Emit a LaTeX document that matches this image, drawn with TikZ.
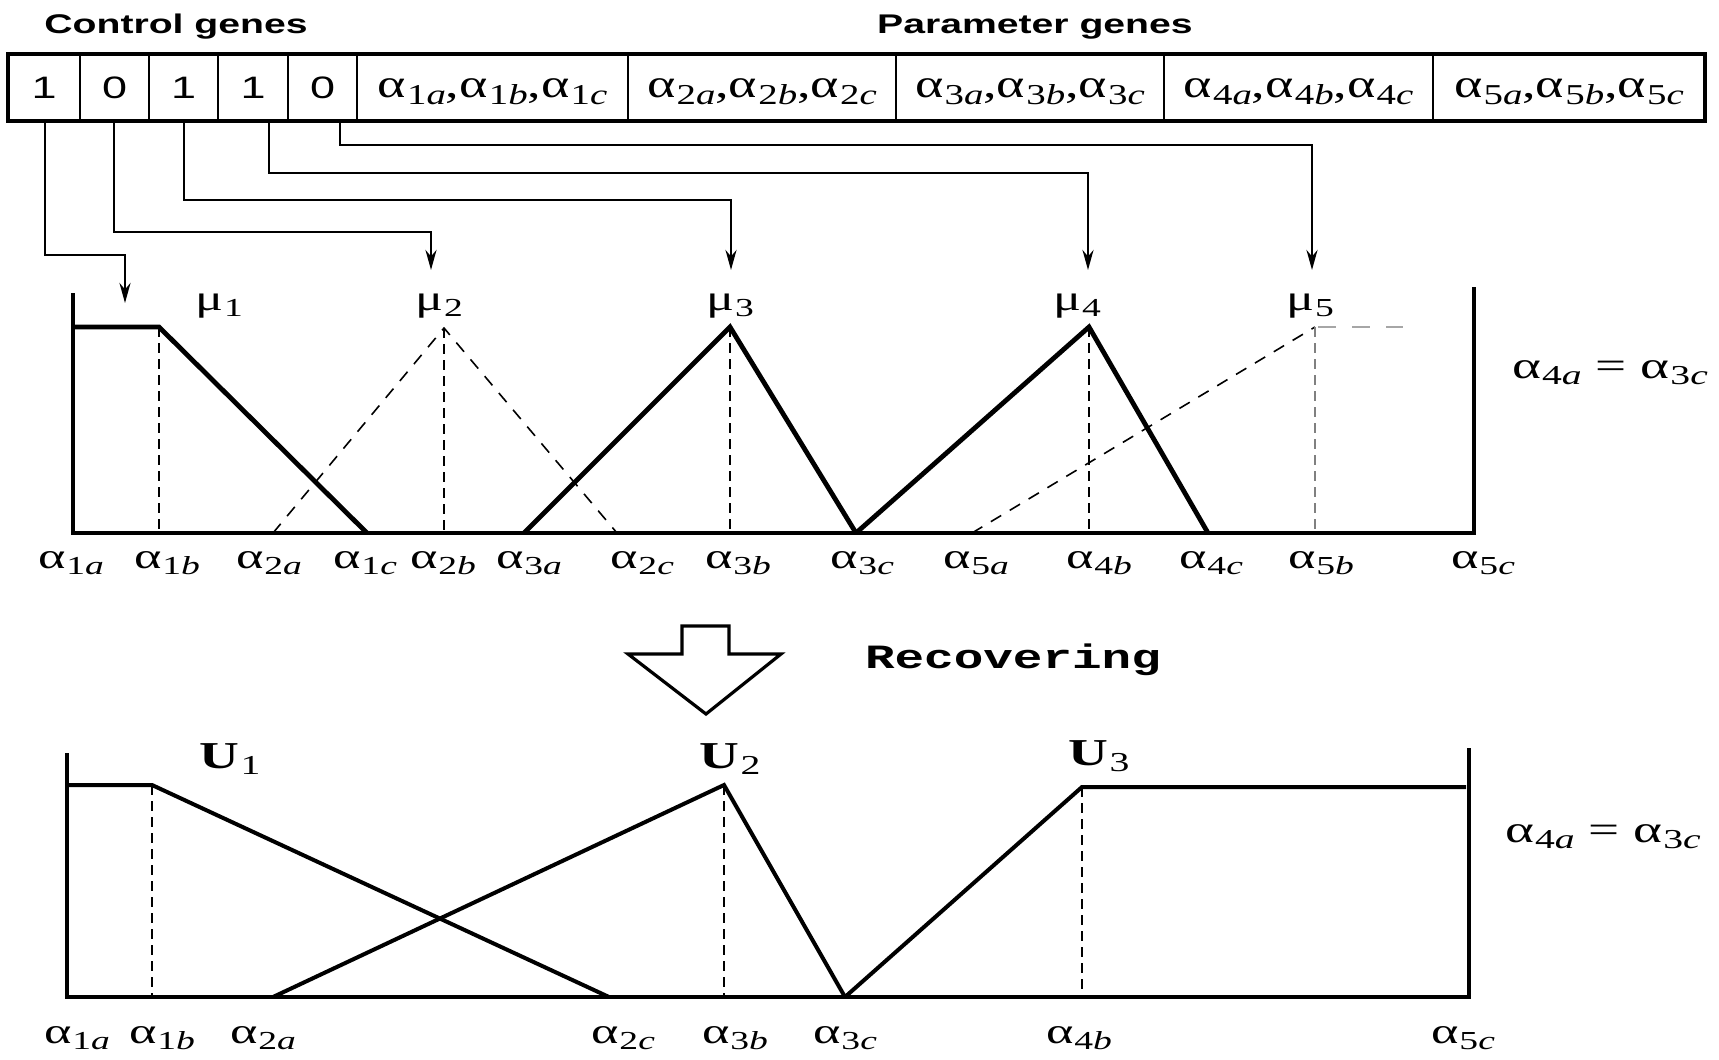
\documentclass[tikz,border=0pt]{standalone}
\usepackage{graphicx}
\usepackage{fontspec}
\setmainfont{Liberation Serif}
\newfontfamily\sansf{Liberation Sans}
\newfontfamily\monof{Liberation Mono}
\usetikzlibrary{arrows.meta}
\newcommand{\xs}[1]{\scalebox{1.45}[1]{#1}}
\newcommand{\al}[2]{α\kern0.02em\raisebox{-0.4ex}{\scalebox{0.72}{#1\textit{#2}}}}
\newcommand{\mus}[1]{μ\kern0.02em\raisebox{-0.4ex}{\scalebox{0.72}{#1}}}
\newcommand{\Us}[1]{\textbf{U}\kern0.02em\raisebox{-0.4ex}{\scalebox{0.72}{#1}}}
\newcommand{\fs}[1]{\fontsize{#1}{#1}\selectfont}
\begin{document}
\begin{tikzpicture}[x=0.5pt,y=-0.5pt,
  txt/.style={inner sep=0pt, anchor=base},
  conn/.style={line width=1.3pt, -{Stealth[length=10pt,width=5.5pt]}},
  boxline/.style={line width=1.7pt},
  curve/.style={line width=2.4pt, line join=miter},
  curvetwo/.style={line width=2pt, line join=miter},
  guide/.style={line width=0.8pt, dash pattern=on 5pt off 3pt},
  mfdash/.style={line width=0.8pt, dash pattern=on 6pt off 5pt},
  lab/.style={txt, font=\fs{18}},
  mulab/.style={txt, font=\fs{18}},
  ulab/.style={txt, font=\fs{19}},
  eqlab/.style={txt, font=\fs{19}}]
\fill[white] (0,0) rectangle (1719,1060);
\useasboundingbox (0,0) rectangle (1719,1060);

% titles
\node[txt, font=\sansf\bfseries\fs{13.5}] (tc) at (176,33) {\xs{Control genes}};
\node[txt, font=\sansf\bfseries\fs{13.5}] (tp) at (1035,33) {\xs{Parameter genes}};

% chromosome
\draw[boxline] (8,54) rectangle (1705,121);
\foreach \x in {80,149,218,288,357,628,896,1164,1433}
  \draw[line width=1.4pt] (\x,54) -- (\x,121);
\node[txt, font=\sansf\fs{15.5}] (d1) at (44,98) {\xs{1}};
\node[txt, font=\sansf\fs{15.5}] (d2) at (114.5,98) {\xs{0}};
\node[txt, font=\sansf\fs{15.5}] (d3) at (183.5,98) {\xs{1}};
\node[txt, font=\sansf\fs{15.5}] (d4) at (253,98) {\xs{1}};
\node[txt, font=\sansf\fs{15.5}] (d5) at (322.5,98) {\xs{0}};
\node[txt, font=\fs{20}] (p1) at (492.5,97) {\scalebox{1.35}[1]{\al{1}{a},\al{1}{b},\al{1}{c}}};
\node[txt, font=\fs{20}] (p2) at (762,97) {\scalebox{1.35}[1]{\al{2}{a},\al{2}{b},\al{2}{c}}};
\node[txt, font=\fs{20}] (p3) at (1030,97) {\scalebox{1.35}[1]{\al{3}{a},\al{3}{b},\al{3}{c}}};
\node[txt, font=\fs{20}] (p4) at (1298.5,97) {\scalebox{1.35}[1]{\al{4}{a},\al{4}{b},\al{4}{c}}};
\node[txt, font=\fs{20}] (p5) at (1569,97) {\scalebox{1.35}[1]{\al{5}{a},\al{5}{b},\al{5}{c}}};

% connectors
\coordinate (g1) at (45,121);   \coordinate (t1) at (125,303);
\coordinate (g2) at (114,121);  \coordinate (t2) at (431,270);
\coordinate (g3) at (184,121);  \coordinate (t3) at (731,270);
\coordinate (g4) at (269,121);  \coordinate (t4) at (1088,270);
\coordinate (g5) at (340,121);  \coordinate (t5) at (1312,270);
\draw[conn] (g1) -- (45,255) -| (t1);
\draw[conn] (g2) -- (114,232) -| (t2);
\draw[conn] (g3) -- (184,200) -| (t3);
\draw[conn] (g4) -- (269,173) -| (t4);
\draw[conn] (g5) -- (340,145) -| (t5);

% ---------- plot 1 ----------
\draw[curve] (73,293) -- (73,533) -- (1474,533) -- (1474,287);
\draw[curve] (73,327) -- (159,327) -- (367,533);
\draw[guide] (159,327) -- (159,533);
\draw[mfdash] (273,533) -- (444,328) -- (617,533);
\draw[guide, line width=0.6pt] (444,328) -- (444,533);
\draw[curve] (524,533) -- (730,327) -- (856,533);
\draw[guide, line width=0.6pt] (730,327) -- (730,533);
\draw[curve] (856,533) -- (1089,327) -- (1208,533);
\draw[guide] (1089,327) -- (1089,533);
\draw[mfdash] (972,533) -- (1315,327);
\draw[line width=1.3pt, gray!70, dash pattern=on 9pt off 8pt] (1318,327) -- (1403,327);
\draw[guide, line width=0.6pt, gray] (1315,327) -- (1315,533);

\node[mulab] (m1) at (219,310) {\xs{\mus{1}}};
\node[mulab] (m2) at (439,310) {\xs{\mus{2}}};
\node[mulab] (m3) at (730,310) {\xs{\mus{3}}};
\node[mulab] (m4) at (1077,310) {\xs{\mus{4}}};
\node[mulab] (m5) at (1310,310) {\xs{\mus{5}}};

\node[lab] (a1a) at (71,568)   {\xs{\al{1}{a}}};
\node[lab] (a1b) at (167,568)  {\xs{\al{1}{b}}};
\node[lab] (a2a) at (269,568)  {\xs{\al{2}{a}}};
\node[lab] (a1c) at (365,568)  {\xs{\al{1}{c}}};
\node[lab] (a2b) at (443,568)  {\xs{\al{2}{b}}};
\node[lab] (a3a) at (529,568)  {\xs{\al{3}{a}}};
\node[lab] (a2c) at (642,568)  {\xs{\al{2}{c}}};
\node[lab] (a3b) at (738,568)  {\xs{\al{3}{b}}};
\node[lab] (a3c) at (862,568)  {\xs{\al{3}{c}}};
\node[lab] (a5a) at (976,568)  {\xs{\al{5}{a}}};
\node[lab] (a4b) at (1099,568) {\xs{\al{4}{b}}};
\node[lab] (a4c) at (1211,568) {\xs{\al{4}{c}}};
\node[lab] (a5b) at (1321,568) {\xs{\al{5}{b}}};
\node[lab] (a5c) at (1483,568) {\xs{\al{5}{c}}};
\node[eqlab] (eq1) at (1610,378) {\xs{\al{4}{a} = \al{3}{c}}};

% ---------- recovering ----------
\draw[line width=1.6pt, line join=miter] (682,626) -- (729,626) -- (729,654) -- (781,654)
  -- (706,714) -- (628,654) -- (682,654) -- cycle;
\node[txt, font=\monof\bfseries\fs{17}] (rec) at (1013,668) {\xs{Recovering}};

% ---------- plot 2 ----------
\draw[curve] (67,753) -- (67,997) -- (1469,997) -- (1469,748);
\draw[curvetwo] (67,785) -- (152,785) -- (609,997);
\draw[guide] (152,785) -- (152,997);
\draw[curvetwo] (273,997) -- (724,785) -- (845,997);
\draw[guide] (724,785) -- (724,997);
\draw[curvetwo] (845,997) -- (1082,787) -- (1466,787);
\draw[guide] (1082,787) -- (1082,997);

\node[ulab] (u1) at (230,768) {\xs{\Us{1}}};
\node[ulab] (u2) at (730,768) {\xs{\Us{2}}};
\node[ulab] (u3) at (1099,765) {\xs{\Us{3}}};

\node[lab] (b1a) at (77,1043)   {\xs{\al{1}{a}}};
\node[lab] (b1b) at (162,1043)  {\xs{\al{1}{b}}};
\node[lab] (b2a) at (263,1043)  {\xs{\al{2}{a}}};
\node[lab] (b2c) at (623,1043)  {\xs{\al{2}{c}}};
\node[lab] (b3b) at (735,1043)  {\xs{\al{3}{b}}};
\node[lab] (b3c) at (845,1043)  {\xs{\al{3}{c}}};
\node[lab] (b4b) at (1079,1043) {\xs{\al{4}{b}}};
\node[lab] (b5c) at (1463,1043) {\xs{\al{5}{c}}};
\node[eqlab] (eq2) at (1603,842) {\xs{\al{4}{a} = \al{3}{c}}};
\end{tikzpicture}
\end{document}
